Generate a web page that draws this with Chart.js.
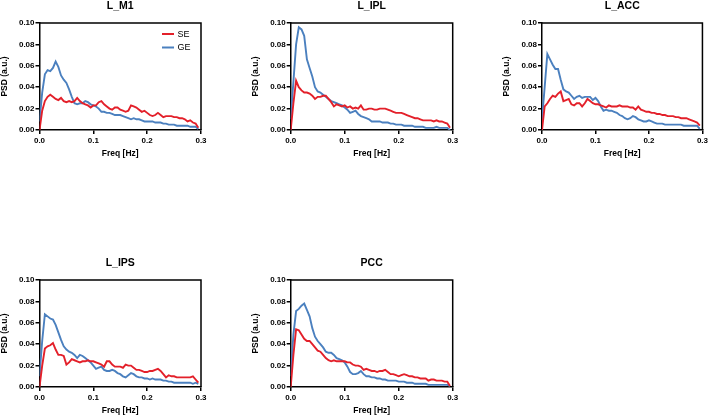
<!DOCTYPE html>
<html>
<head>
<meta charset="utf-8">
<script src="https://cdn.jsdelivr.net/npm/chart.js@4.4.1/dist/chart.umd.min.js"></script>
<style>
  html, body { margin: 0; padding: 0; background: #fff; }
  body { width: 710px; height: 416px; position: relative; overflow: hidden; }
  canvas { position: absolute; }
</style>
</head>
<body>
<canvas id="c0"></canvas>
<canvas id="c1"></canvas>
<canvas id="c2"></canvas>
<canvas id="c3"></canvas>
<canvas id="c4"></canvas>
<script>
// Frequency bins (Hz), shared by every panel.
const FREQ = [
  0.000, 0.005, 0.010, 0.015, 0.020, 0.025, 0.030, 0.035, 0.040, 0.045,
  0.050, 0.055, 0.060, 0.065, 0.070, 0.075, 0.080, 0.085, 0.090, 0.095,
  0.100, 0.105, 0.110, 0.115, 0.120, 0.125, 0.130, 0.135, 0.140, 0.145,
  0.150, 0.155, 0.160, 0.165, 0.170, 0.175, 0.180, 0.185, 0.190, 0.195,
  0.200, 0.205, 0.210, 0.215, 0.220, 0.225, 0.230, 0.235, 0.240, 0.245,
  0.250, 0.255, 0.260, 0.265, 0.270, 0.275, 0.280, 0.285, 0.290, 0.295
];
const X_TICKS = [0, 0.1, 0.2, 0.3];
const Y_TICKS = [0, 0.02, 0.04, 0.06, 0.08, 0.10];
const SERIES_NAMES = ["SE", "GE"];
const REGION_NAMES = ["L_M1", "L_IPL", "L_ACC", "L_IPS", "PCC"];

const L_M1_SE = [
  0.000, 0.018, 0.027, 0.031, 0.033, 0.031, 0.029, 0.028, 0.030, 0.027,
  0.026, 0.027, 0.026, 0.027, 0.030, 0.027, 0.025, 0.024, 0.023, 0.021,
  0.023, 0.023, 0.026, 0.027, 0.024, 0.022, 0.020, 0.019, 0.021, 0.021,
  0.019, 0.018, 0.017, 0.018, 0.023, 0.022, 0.021, 0.019, 0.017, 0.018,
  0.016, 0.014, 0.013, 0.014, 0.016, 0.014, 0.012, 0.013, 0.013, 0.013,
  0.012, 0.012, 0.011, 0.011, 0.010, 0.008, 0.009, 0.007, 0.006, 0.002
];
const L_M1_GE = [
  0.008, 0.035, 0.052, 0.056, 0.055, 0.058, 0.064, 0.059, 0.051, 0.047,
  0.044, 0.038, 0.031, 0.025, 0.024, 0.025, 0.025, 0.027, 0.026, 0.024,
  0.023, 0.022, 0.020, 0.017, 0.017, 0.016, 0.016, 0.015, 0.014, 0.014,
  0.014, 0.013, 0.012, 0.011, 0.010, 0.011, 0.010, 0.010, 0.009, 0.008,
  0.008, 0.008, 0.008, 0.007, 0.007, 0.007, 0.006, 0.006, 0.005, 0.005,
  0.005, 0.004, 0.004, 0.004, 0.004, 0.004, 0.003, 0.003, 0.003, 0.001
];
const L_IPL_SE = [
  0.000, 0.025, 0.046, 0.040, 0.037, 0.035, 0.035, 0.034, 0.032, 0.029,
  0.031, 0.031, 0.032, 0.032, 0.029, 0.026, 0.022, 0.024, 0.023, 0.022,
  0.023, 0.021, 0.022, 0.020, 0.021, 0.020, 0.023, 0.019, 0.019, 0.020,
  0.020, 0.019, 0.019, 0.020, 0.020, 0.020, 0.019, 0.018, 0.017, 0.016,
  0.016, 0.016, 0.015, 0.014, 0.013, 0.012, 0.011, 0.011, 0.010, 0.009,
  0.009, 0.009, 0.009, 0.008, 0.009, 0.008, 0.008, 0.007, 0.006, 0.002
];
const L_IPL_GE = [
  0.010, 0.045, 0.080, 0.096, 0.094, 0.088, 0.066, 0.058, 0.050, 0.040,
  0.036, 0.035, 0.033, 0.031, 0.029, 0.027, 0.026, 0.025, 0.024, 0.023,
  0.021, 0.019, 0.016, 0.017, 0.018, 0.015, 0.013, 0.012, 0.011, 0.010,
  0.008, 0.008, 0.008, 0.008, 0.007, 0.007, 0.007, 0.006, 0.006, 0.005,
  0.005, 0.005, 0.004, 0.004, 0.004, 0.004, 0.003, 0.003, 0.003, 0.003,
  0.002, 0.002, 0.002, 0.002, 0.003, 0.002, 0.002, 0.002, 0.002, 0.000
];
const L_ACC_SE = [
  0.000, 0.022, 0.025, 0.029, 0.032, 0.031, 0.034, 0.036, 0.027, 0.028,
  0.029, 0.024, 0.023, 0.025, 0.025, 0.022, 0.025, 0.029, 0.027, 0.025,
  0.024, 0.024, 0.023, 0.022, 0.021, 0.023, 0.022, 0.022, 0.022, 0.023,
  0.022, 0.022, 0.022, 0.021, 0.021, 0.019, 0.022, 0.019, 0.018, 0.017,
  0.017, 0.016, 0.016, 0.015, 0.015, 0.014, 0.014, 0.013, 0.013, 0.013,
  0.012, 0.012, 0.011, 0.011, 0.011, 0.010, 0.009, 0.008, 0.007, 0.004
];
const L_ACC_GE = [
  0.010, 0.040, 0.071, 0.066, 0.061, 0.057, 0.057, 0.047, 0.038, 0.036,
  0.035, 0.032, 0.029, 0.031, 0.032, 0.030, 0.031, 0.031, 0.031, 0.028,
  0.030, 0.027, 0.022, 0.018, 0.019, 0.018, 0.018, 0.017, 0.016, 0.014,
  0.013, 0.011, 0.010, 0.011, 0.013, 0.012, 0.010, 0.009, 0.008, 0.008,
  0.009, 0.008, 0.007, 0.006, 0.006, 0.006, 0.005, 0.005, 0.005, 0.005,
  0.005, 0.005, 0.005, 0.004, 0.004, 0.004, 0.004, 0.004, 0.004, 0.001
];
const L_IPS_SE = [
  0.000, 0.020, 0.036, 0.038, 0.039, 0.041, 0.035, 0.030, 0.030, 0.029,
  0.021, 0.023, 0.026, 0.025, 0.024, 0.023, 0.024, 0.024, 0.025, 0.024,
  0.024, 0.023, 0.022, 0.021, 0.019, 0.024, 0.024, 0.021, 0.019, 0.019,
  0.019, 0.018, 0.021, 0.020, 0.020, 0.018, 0.016, 0.016, 0.015, 0.014,
  0.014, 0.015, 0.015, 0.016, 0.017, 0.015, 0.012, 0.009, 0.011, 0.010,
  0.010, 0.009, 0.009, 0.009, 0.009, 0.009, 0.009, 0.010, 0.007, 0.004
];
const L_IPS_GE = [
  0.010, 0.043, 0.068, 0.066, 0.064, 0.063, 0.058, 0.051, 0.044, 0.038,
  0.035, 0.033, 0.032, 0.030, 0.027, 0.030, 0.029, 0.027, 0.025, 0.023,
  0.020, 0.017, 0.018, 0.019, 0.016, 0.015, 0.015, 0.016, 0.015, 0.013,
  0.012, 0.010, 0.009, 0.011, 0.013, 0.012, 0.010, 0.009, 0.009, 0.008,
  0.008, 0.007, 0.008, 0.007, 0.007, 0.007, 0.006, 0.006, 0.005, 0.005,
  0.004, 0.004, 0.004, 0.004, 0.004, 0.004, 0.004, 0.003, 0.004, 0.003
];
const PCC_SE = [
  0.000, 0.030, 0.054, 0.053, 0.049, 0.045, 0.043, 0.043, 0.040, 0.037,
  0.034, 0.033, 0.030, 0.027, 0.025, 0.024, 0.025, 0.024, 0.024, 0.024,
  0.024, 0.023, 0.023, 0.021, 0.020, 0.020, 0.019, 0.016, 0.017, 0.016,
  0.015, 0.015, 0.014, 0.015, 0.015, 0.016, 0.014, 0.012, 0.012, 0.011,
  0.010, 0.011, 0.012, 0.011, 0.010, 0.010, 0.009, 0.009, 0.008, 0.008,
  0.008, 0.006, 0.007, 0.007, 0.006, 0.006, 0.006, 0.005, 0.005, 0.001
];
const PCC_GE = [
  0.010, 0.049, 0.071, 0.073, 0.076, 0.078, 0.072, 0.066, 0.055, 0.047,
  0.043, 0.040, 0.037, 0.033, 0.032, 0.032, 0.030, 0.027, 0.026, 0.025,
  0.023, 0.019, 0.014, 0.012, 0.012, 0.013, 0.015, 0.012, 0.010, 0.010,
  0.009, 0.009, 0.008, 0.008, 0.007, 0.007, 0.006, 0.006, 0.006, 0.006,
  0.005, 0.005, 0.005, 0.004, 0.004, 0.004, 0.003, 0.003, 0.003, 0.003,
  0.003, 0.002, 0.002, 0.002, 0.002, 0.002, 0.002, 0.002, 0.002, 0.001
];

const REGION_SE = [L_M1_SE, L_IPL_SE, L_ACC_SE, L_IPS_SE, PCC_SE];
const REGION_GE = [L_M1_GE, L_IPL_GE, L_ACC_GE, L_IPS_GE, PCC_GE];

const RED = "#e3202a";
const BLUE = "#4b80bf";
const FONT = "'Liberation Sans', Arial, Helvetica, sans-serif";

// Canvas placement; axisW is the width reserved for the Y axis so the
// plot areas line up with the reference grid.
const PANELS = [
  { left: 0,   top: 0,   width: 225, axisW: 39.5, padRight: 24 },
  { left: 251, top: 0,   width: 225, axisW: 39.7, padRight: 23.3 },
  { left: 502, top: 0,   width: 208, axisW: 40,   padRight: 5.7 },
  { left: 0,   top: 257, width: 225, axisW: 39.5, padRight: 24 },
  { left: 251, top: 257, width: 225, axisW: 39.7, padRight: 23.3 },
];
const PANEL_H = 160;

// Top + right edges of the plot box (Chart.js only draws bottom/left axes).
const frameBox = {
  id: "frameBox",
  afterDraw(chart) {
    const { ctx, chartArea: a } = chart;
    ctx.save();
    ctx.strokeStyle = "#000";
    ctx.lineWidth = 1.5;
    ctx.beginPath();
    ctx.moveTo(a.left, a.top);
    ctx.lineTo(a.right, a.top);
    ctx.lineTo(a.right, a.bottom);
    ctx.stroke();
    ctx.restore();
  },
};

// Small line legend in the upper right of the first panel.
const lineLegend = {
  id: "lineLegend",
  afterDraw(chart) {
    const { ctx, chartArea: a } = chart;
    ctx.save();
    ctx.font = "9px " + FONT;
    ctx.textBaseline = "middle";
    chart.data.datasets.forEach((ds, i) => {
      const y = a.top + 11 + i * 13.5;
      const x0 = a.right - 39;
      ctx.strokeStyle = ds.borderColor;
      ctx.lineWidth = 2;
      ctx.beginPath();
      ctx.moveTo(x0, y);
      ctx.lineTo(x0 + 12, y);
      ctx.stroke();
      ctx.fillStyle = "#000";
      ctx.fillText(ds.label, x0 + 15.5, y + 0.5);
    });
    ctx.restore();
  },
};

function makeChart(idx) {
  const p = PANELS[idx];
  const canvas = document.getElementById("c" + idx);
  canvas.width = p.width;
  canvas.height = PANEL_H;
  canvas.style.left = p.left + "px";
  canvas.style.top = p.top + "px";

  const series = [REGION_SE[idx], REGION_GE[idx]];
  const colors = [RED, BLUE];
  const datasets = SERIES_NAMES.map((name, k) => ({
    label: name,
    data: FREQ.map((f, i) => ({ x: f, y: series[k][i] })),
    borderColor: colors[k],
    borderWidth: 1.9,
    pointRadius: 0,
    tension: 0,
    fill: false,
    order: k === 0 ? 0 : 1,
  }));

  const tickFont = { family: FONT, size: 8, weight: "bold" };
  const axisGrid = {
    display: true,
    drawOnChartArea: false,
    drawTicks: true,
    tickLength: 4,
    color: "#000",
    lineWidth: 1.5,
  };
  const plugins = [frameBox];
  if (idx === 0) plugins.push(lineLegend);

  return new Chart(canvas.getContext("2d"), {
    type: "line",
    data: { datasets },
    options: {
      responsive: false,
      animation: false,
      devicePixelRatio: 1,
      layout: { padding: { left: 0, top: 0, right: p.padRight, bottom: 0 } },
      plugins: {
        legend: { display: false },
        tooltip: { enabled: false },
        title: {
          display: true,
          text: REGION_NAMES[idx],
          fullSize: false,
          color: "#000",
          font: { family: FONT, size: 10.5, weight: "bold" },
          padding: { top: 0, bottom: 10.4 },
        },
      },
      scales: {
        x: {
          type: "linear",
          min: 0,
          max: 0.3,
          afterBuildTicks: (s) => { s.ticks = X_TICKS.map((v) => ({ value: v })); },
          afterFit: (s) => { s.height = PANEL_H - 130; },
          grid: axisGrid,
          border: { display: true, color: "#000", width: 1.5 },
          ticks: {
            color: "#000",
            font: tickFont,
            padding: 2,
            maxRotation: 0,
            autoSkip: false,
            callback: (v) => Number(v).toFixed(1),
          },
          title: {
            display: true,
            text: "Freq [Hz]",
            color: "#000",
            font: { family: FONT, size: 8.5, weight: "bold" },
            padding: { top: 0, bottom: 1 },
          },
        },
        y: {
          min: 0,
          max: 0.1,
          afterBuildTicks: (s) => { s.ticks = Y_TICKS.map((v) => ({ value: v })); },
          afterFit: (s) => { s.width = p.axisW; },
          grid: axisGrid,
          border: { display: true, color: "#000", width: 1.5 },
          ticks: {
            color: "#000",
            font: tickFont,
            padding: 1,
            autoSkip: false,
            callback: (v) => Number(v).toFixed(2),
          },
          title: {
            display: true,
            text: "PSD (a.u.)",
            color: "#000",
            font: { family: FONT, size: 8.5, weight: "bold" },
            padding: { top: 0, bottom: 0 },
          },
        },
      },
    },
    plugins,
  });
}

REGION_NAMES.forEach((_, i) => makeChart(i));
</script>
</body>
</html>
